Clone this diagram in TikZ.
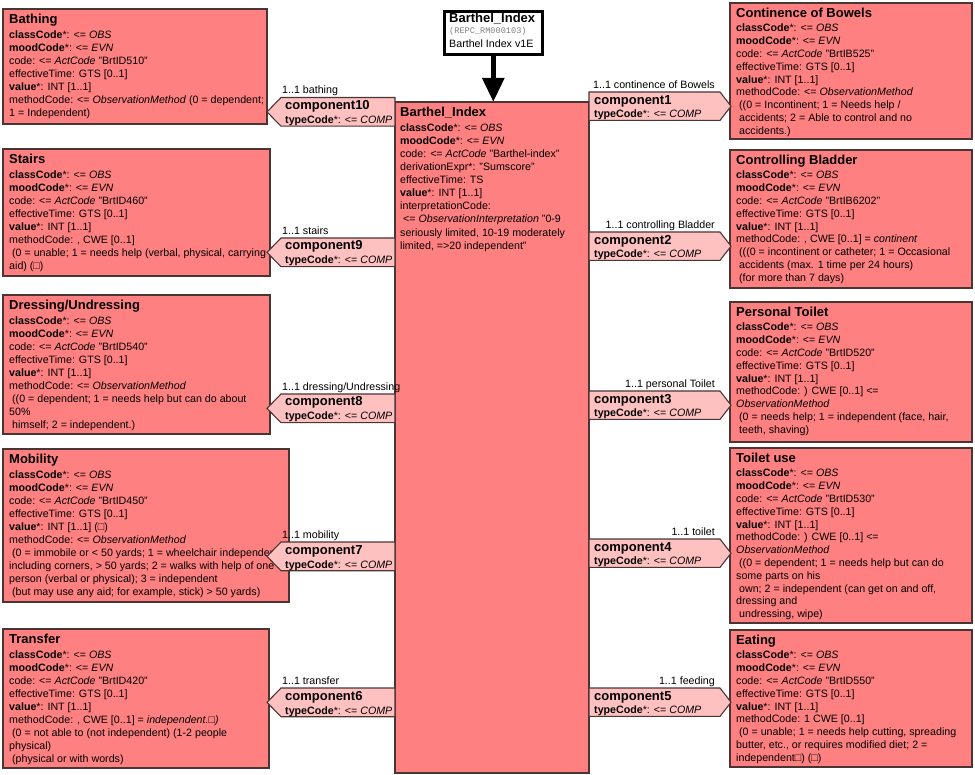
\documentclass[tikz,border=0pt]{standalone}
\usepackage{fontspec}
\setmainfont{Liberation Sans}
\newfontfamily\monof{Liberation Mono}
\usetikzlibrary{arrows.meta}
\definecolor{boxfill}{HTML}{FF8080}
\definecolor{compfill}{HTML}{FFC0C0}
\definecolor{edgecol}{HTML}{4A3535}
\newcommand\bodyf{\fontsize{10.67}{12.8}\selectfont}
\newcommand\bodyfL{\fontsize{10.67}{13.05}\selectfont}
\newcommand\ttlf{\fontsize{13}{15}\selectfont\bfseries}
\newcommand\bxLn[1]{\hbox{#1}}
\newcommand\bxTtl[1]{\hbox{\ttlf #1}\kern1.6pt}
\newcommand\bxCC{\bxLn{\textbf{classCode}*: <= \textit{OBS}}}
\newcommand\bxMC{\bxLn{\textbf{moodCode}*: <= \textit{EVN}}}
\newcommand\bxCd[1]{\bxLn{code: <= \textit{ActCode} "#1"}}
\newcommand\bxET{\bxLn{effectiveTime: GTS [0..1]}}
\newcommand\bxVL{\bxLn{\textbf{value}*: INT [1..1]}}
\tikzset{
  obsbox/.style={draw=edgecol, line width=1.1pt, fill=boxfill, anchor=north west, inner sep=0pt, outer sep=0pt},
  txt/.style={anchor=base west, inner sep=0pt, font=\bodyf, text=black},
  txtL/.style={txt, font=\bodyfL},
  compshape/.style={draw=edgecol, line width=1.1pt, fill=compfill, line join=miter},
  compname/.style={anchor=base west, inner sep=0pt, font=\ttlf},
  hdrbox/.style={draw=black, line width=2.6pt, fill=white, anchor=north west, inner sep=0pt},
}
\newcommand\Lcomp[4]{%
  \pgfmathsetmacro\cpm{#2+14.4}\pgfmathsetmacro\cpb{#2+28.7}%
  \draw[compshape] (main.west |- 0,#2) -- (281,#2) -- (267,\cpm) -- (281,\cpb) -- (main.west |- 0,\cpb) -- cycle;
  \node[txt] (#1l) at (282,{#2-3.5}) {1..1 #4};
  \node[compname] (#1n) at (285,{#2+12}) {component#3};
  \node[txt] (#1t) at (285,{#2+26}) {\textbf{typeCode}*: <= \textit{COMP}};
}
\newcommand\Rcomp[4]{%
  \pgfmathsetmacro\cpm{#2+14.2}\pgfmathsetmacro\cpb{#2+28.4}%
  \draw[compshape] (main.east |- 0,#2) -- (720,#2) -- (731,\cpm) -- (720,\cpb) -- (main.east |- 0,\cpb) -- cycle;
  \node[txt, anchor=base east] (#1l) at (715,{#2-3.5}) {1..1 #4};
  \node[compname] (#1n) at (594,{#2+12.2}) {component#3};
  \node[txt] (#1t) at (594,{#2+25.7}) {\textbf{typeCode}*: <= \textit{COMP}};
}
\begin{document}
\begin{tikzpicture}[x=1pt, y=-1pt]
\useasboundingbox (0,0) rectangle (975,775);
% left boxes
\node[obsbox, minimum width=264pt, minimum height=115pt] (bath) at (3,9) {};
\node[obsbox, minimum width=267pt, minimum height=127pt] (stairs) at (3,149) {};
\node[obsbox, minimum width=267pt, minimum height=139pt] (dress) at (3,295) {};
\node[obsbox, minimum width=286pt, minimum height=153pt] (mob) at (3,449) {};
\node[obsbox, minimum width=266pt, minimum height=139pt] (trans) at (3,629) {};
% right boxes
\node[obsbox, minimum width=242pt, minimum height=136pt] (cont) at (730,3) {};
\node[obsbox, minimum width=242pt, minimum height=138pt] (blad) at (730,150) {};
\node[obsbox, minimum width=242pt, minimum height=140pt] (ptoil) at (730,302) {};
\node[obsbox, minimum width=242pt, minimum height=175pt] (tuse) at (730,448) {};
\node[obsbox, minimum width=242pt, minimum height=137pt] (eat) at (730,630) {};
% main box
\node[obsbox, minimum width=194pt, minimum height=671pt] (main) at (395,102) {};
% header
\node[hdrbox, minimum width=98pt, minimum height=43pt] (hdr) at (443,10) {};
\node[compname] (hdrA) at ([shift={(6,13)}]hdr.north west) {Barthel\_Index};
\node[anchor=base west, inner sep=0pt, font=\monof\fontsize{8.6}{10}\selectfont, text=gray] (hdrB) at ([shift={(6,23.5)}]hdr.north west) {(REPC\_RM000103)};
\node[txt] (hdrC) at ([shift={(6,38)}]hdr.north west) {Barthel Index v1E};
\draw[line width=5.5pt, -{Triangle[length=24pt, width=21pt]}] (hdr.south) -- (hdr.south |- main.north);
% texts left
\node[txtL] (bathT) at ([shift={(6,14.5)}]bath.north west) {\vtop{\bxTtl{Bathing}\bxCC\bxMC\bxCd{BrtID510}\bxET\bxVL
  \bxLn{methodCode: <= \textit{ObservationMethod} (0 = dependent;}\bxLn{1 = Independent)}}};
\node[txtL] (stairsT) at ([shift={(6,14.5)}]stairs.north west) {\vtop{\bxTtl{Stairs}\bxCC\bxMC\bxCd{BrtID460}\bxET\bxVL
  \bxLn{methodCode: , CWE [0..1]}\bxLn{\ (0 = unable; 1 = needs help (verbal, physical, carrying}\bxLn{aid) (□)}}};
\node[txtL] (dressT) at ([shift={(6,14.5)}]dress.north west) {\vtop{\bxTtl{Dressing/Undressing}\bxCC\bxMC\bxCd{BrtID540}\bxET\bxVL
  \bxLn{methodCode: <= \textit{ObservationMethod}}\bxLn{\ ((0 = dependent; 1 = needs help but can do about}\bxLn{50\%}\bxLn{\ himself; 2 = independent.)}}};
\node[txtL] (mobT) at ([shift={(6,14.5)}]mob.north west) {\vtop{\bxTtl{Mobility}\bxCC\bxMC\bxCd{BrtID450}\bxET
  \bxLn{\textbf{value}*: INT [1..1] (□)}
  \bxLn{methodCode: <= \textit{ObservationMethod}}\bxLn{\ (0 = immobile or < 50 yards; 1 = wheelchair independent}
  \bxLn{including corners, > 50 yards; 2 = walks with help of one}\bxLn{person (verbal or physical); 3 = independent}
  \bxLn{\ (but may use any aid; for example, stick) > 50 yards)}}};
\node[txtL] (transT) at ([shift={(6,14.5)}]trans.north west) {\vtop{\bxTtl{Transfer}\bxCC\bxMC\bxCd{BrtID420}\bxET\bxVL
  \bxLn{methodCode: , CWE [0..1] = \textit{independent.□)}}\bxLn{\ (0 = not able to (not independent) (1-2 people}
  \bxLn{physical)}\bxLn{\ (physical or with words)}}};
% main text
\node[txtL] (mainT) at ([shift={(5,15)}]main.north west) {\vtop{\bxTtl{Barthel\_Index}\bxCC\bxMC
  \bxLn{code: <= \textit{ActCode} "Barthel-index"}\bxLn{derivationExpr*: "Sumscore"}\bxLn{effectiveTime: TS}\bxVL
  \bxLn{interpretationCode:}\bxLn{\ <= \textit{ObservationInterpretation} "0-9}\bxLn{seriously limited, 10-19 moderately}
  \bxLn{limited, =>20 independent"}}};
% texts right
\node[txt] (contT) at ([shift={(6,14.5)}]cont.north west) {\vtop{\bxTtl{Continence of Bowels}\bxCC\bxMC\bxCd{BrtIB525}\bxET\bxVL
  \bxLn{methodCode: <= \textit{ObservationMethod}}\bxLn{\ ((0 = Incontinent; 1 = Needs help /}
  \bxLn{\ accidents; 2 = Able to control and no}\bxLn{\ accidents.)}}};
\node[txt] (bladT) at ([shift={(6,14.5)}]blad.north west) {\vtop{\bxTtl{Controlling Bladder}\bxCC\bxMC\bxCd{BrtIB6202}\bxET\bxVL
  \bxLn{methodCode: , CWE [0..1] = \textit{continent}}\bxLn{\ (((0 = incontinent or catheter; 1 = Occasional}
  \bxLn{\ accidents (max. 1 time per 24 hours)}\bxLn{\ (for more than 7 days)}}};
\node[txt] (ptoilT) at ([shift={(6,14.5)}]ptoil.north west) {\vtop{\bxTtl{Personal Toilet}\bxCC\bxMC\bxCd{BrtID520}\bxET\bxVL
  \bxLn{methodCode: ) CWE [0..1] <=}\bxLn{\textit{ObservationMethod}}
  \bxLn{\ (0 = needs help; 1 = independent (face, hair,}\bxLn{\ teeth, shaving)}}};
\node[txt] (tuseT) at ([shift={(6,14.5)}]tuse.north west) {\vtop{\bxTtl{Toilet use}\bxCC\bxMC\bxCd{BrtID530}\bxET\bxVL
  \bxLn{methodCode: ) CWE [0..1] <=}\bxLn{\textit{ObservationMethod}}
  \bxLn{\ ((0 = dependent; 1 = needs help but can do}\bxLn{some parts on his}
  \bxLn{\ own; 2 = independent (can get on and off,}\bxLn{dressing and}\bxLn{\ undressing, wipe)}}};
\node[txt] (eatT) at ([shift={(6,14.5)}]eat.north west) {\vtop{\bxTtl{Eating}\bxCC\bxMC\bxCd{BrtID550}\bxET\bxVL
  \bxLn{methodCode: 1 CWE [0..1]}\bxLn{\ (0 = unable; 1 = needs help cutting, spreading}
  \bxLn{butter, etc., or requires modified diet; 2 =}\bxLn{independent□) (□)}}};
% components
\Lcomp{cten}{97.5}{10}{bathing}
\Lcomp{cnine}{238}{9}{stairs}
\Lcomp{ceight}{394}{8}{dressing/Undressing}
\Lcomp{cseven}{542}{7}{mobility}
\Lcomp{csix}{688}{6}{transfer}
\Rcomp{cone}{92}{1}{continence of Bowels}
\Rcomp{ctwo}{232}{2}{controlling Bladder}
\Rcomp{cthree}{391}{3}{personal Toilet}
\Rcomp{cfour}{539}{4}{toilet}
\Rcomp{cfive}{688}{5}{feeding}
\end{tikzpicture}
\end{document}
